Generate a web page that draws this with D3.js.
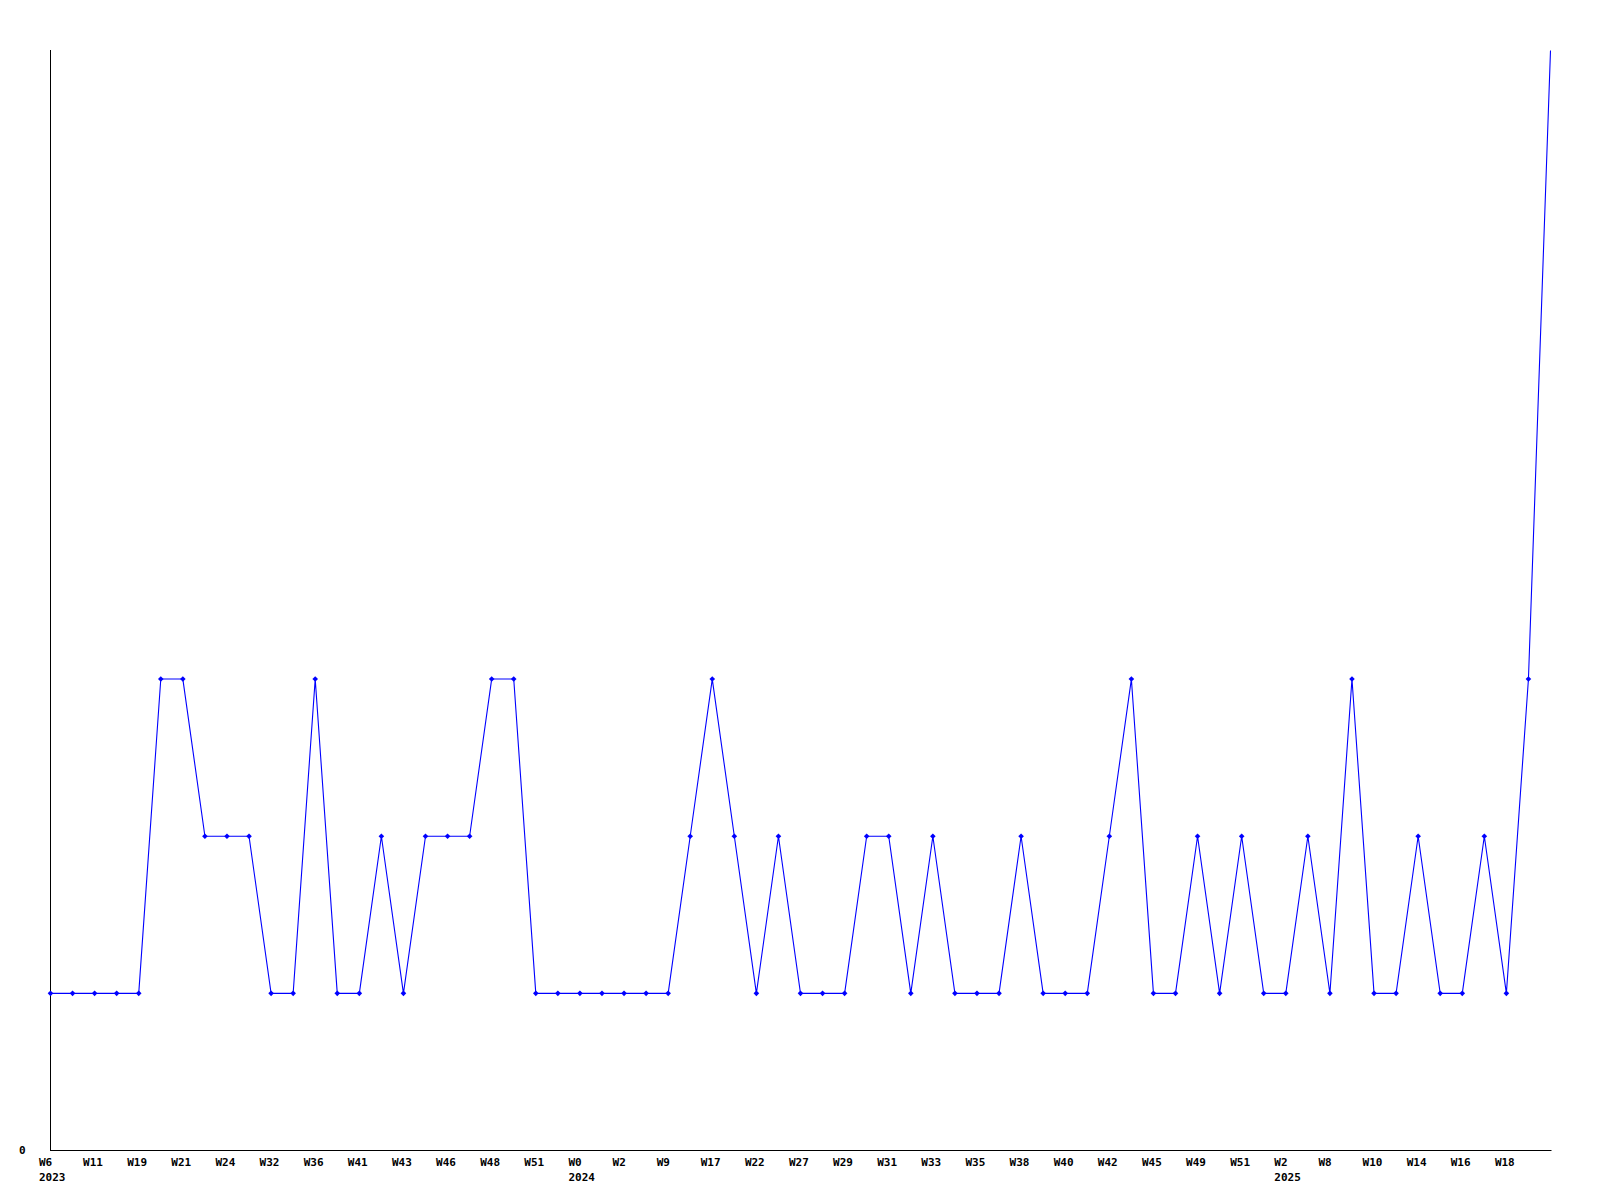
<!DOCTYPE html>
<html>
<head>
<meta charset="utf-8">
<script src="https://cdn.jsdelivr.net/npm/d3@7"></script>
<style>
  html, body { margin: 0; padding: 0; background: #ffffff; }
  svg { display: block; }
  text { font-family: "DejaVu Sans Mono", "Liberation Mono", monospace; font-weight: bold; font-size: 11px; fill: #000; }
</style>
</head>
<body>
<svg id="chart" width="1600" height="1200"></svg>
<script>
// Weekly counts, one per week (69 points)
const values = [
  1, 1, 1, 1, 1, 3, 3, 2, 2, 2,
  1, 1, 3, 1, 1, 2, 1, 2, 2, 2,
  3, 3, 1, 1, 1, 1, 1, 1, 1, 2,
  3, 2, 1, 2, 1, 1, 1, 2, 2, 1,
  2, 1, 1, 1, 2, 1, 1, 1, 2, 3,
  1, 1, 2, 1, 2, 1, 1, 2, 1, 3,
  1, 1, 2, 1, 1, 2, 1, 3, 7
];
// Labels shown on every other point
const weekLabels = [
  "W6", "W11", "W19", "W21", "W24", "W32", "W36", "W41", "W43", "W46", "W48", "W51",
  "W0", "W2", "W9", "W17", "W22", "W27", "W29", "W31", "W33", "W35", "W38", "W40",
  "W42", "W45", "W49", "W51", "W2", "W8", "W10", "W14", "W16", "W18"
];
// Year labels: [label index, year]
const yearLabels = [[0, "2023"], [12, "2024"], [28, "2025"]];
const yTickLabels = ["0"];

const svg = d3.select("#chart");
const plotLeft = 50, plotRight = 1550, plotTop = 50, plotBottom = 1150;

const x = d3.scaleLinear().domain([0, values.length - 1]).range([plotLeft, plotRight]);
const y = d3.scaleLinear().domain([0, d3.max(values)]).range([plotBottom, plotTop]);

// Axes lines
svg.append("line")
  .attr("x1", plotLeft + 0.5).attr("x2", plotLeft + 0.5)
  .attr("y1", plotTop).attr("y2", plotBottom + 0.5)
  .attr("stroke", "#000").attr("stroke-width", 1);
svg.append("line")
  .attr("x1", plotLeft).attr("x2", plotRight + 1.5)
  .attr("y1", plotBottom + 0.5).attr("y2", plotBottom + 0.5)
  .attr("stroke", "#000").attr("stroke-width", 1);

// y label
svg.append("text").attr("x", 19).attr("y", y(0) + 3.5).text(yTickLabels[0]);

// x labels
weekLabels.forEach((lab, i) => {
  const px = x(i * 2);
  svg.append("text").attr("x", px - 11).attr("y", 1166).text(lab);
});
yearLabels.forEach(([idx, yr]) => {
  const px = x(idx * 2);
  svg.append("text").attr("x", px - 11).attr("y", 1181).text(yr);
});

// Line
const line = d3.line().x((d, i) => x(i) + 0.5).y(d => y(d) + 0.5);
svg.append("path")
  .datum(values)
  .attr("d", line)
  .attr("fill", "none")
  .attr("stroke", "#0000ff")
  .attr("stroke-width", 1.1);

// Markers (the top-edge point shows no marker in the original)
const yMax = d3.max(values);
const diamond = d3.symbol().type(d3.symbolDiamond2).size(20);
svg.selectAll("path.marker")
  .data(values.map((v, i) => ({ v, i })).filter(d => d.v < yMax))
  .join("path")
  .attr("class", "marker")
  .attr("d", diamond)
  .attr("transform", d => `translate(${x(d.i) + 0.5},${y(d.v) + 0.5})`)
  .attr("fill", "#0000ff");
</script>
</body>
</html>
